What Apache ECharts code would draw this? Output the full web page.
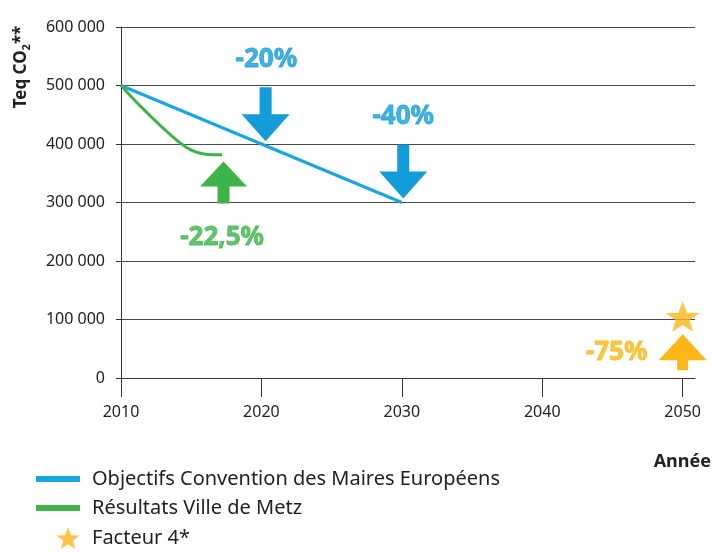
<!DOCTYPE html>
<html>
<head>
<meta charset="utf-8">
<script src="https://cdn.jsdelivr.net/npm/echarts@6/dist/echarts.min.js"></script>
<style>
html,body{margin:0;padding:0;background:#fff;}
#chart{width:712px;height:552px;}
</style>
</head>
<body>
<div id="chart"></div>
<script>
// ---- data ----
const xTicks = [2010, 2020, 2030, 2040, 2050];
const yTicks = [0, 100000, 200000, 300000, 400000, 500000, 600000];

const objectifYears = [2010, 2020, 2030];
const objectifValues = [500000, 400000, 300000];

const resultYears = [2010, 2011, 2012, 2013, 2014, 2015, 2016, 2017.2];
const resultValues = [500000, 474000, 450000, 427000, 406000, 389500, 382500, 381500];

const facteurYears = [2050];
const facteurValues = [105000];

const arrowDownPos = [[2020.3, 451000], [2030.1, 353000]];
const arrowUpGreenPos = [[2017.3, 334000]];
const arrowUpYellowPos = [[2050, 44000]];

const annotationTexts = ['-20%', '-40%', '-22,5%', '-75%'];
const annotationPos = [[2020.35, 545000], [2030.1, 446000], [2017.2, 240000], [2045.3, 44000]];
const annotationColors = ['#139cd9', '#139cd9', '#3cb44a', '#fbb617'];

const seriesNames = ['Objectifs Convention des Maires Européens', 'Résultats Ville de Metz', 'Facteur 4*'];

// ---- chart ----
const BLUE = '#17a6e2', BLUE_DARK = '#139cd9', GREEN = '#3cb44a', YELLOW = '#fbb617';
const FONT = '"Noto Sans", "Open Sans", sans-serif';
const STAR_PTS = 'L62,33.5 L97.55,34.55 L69.5,56.5 L79.39,90.45 L50,70.5 L20.61,90.45 L30.5,56.5 L2.45,34.55 L38,33.5 Z';
const STAR = 'path://M50,0 ' + STAR_PTS;
const STAR_LEGEND = 'path://M-80,45 M50,0 ' + STAR_PTS;
const LINE_ICON = 'path://M0,0 L44,0 L44,6 L0,6 Z';
const ARROW_DOWN = 'path://M18,0 L30,0 L30,27 L48,27 L24,54 L0,27 L18,27 Z';
const ARROW_UP_G = 'path://M23.5,0 L47,25 L29.5,25 L29.5,42 L17.5,42 L17.5,25 L0,25 Z';
const ARROW_UP_Y = 'path://M24,0 L48,26 L29.5,26 L29.5,36 L18.5,36 L18.5,26 L0,26 Z';

function fmt(v){ return String(v).replace(/\B(?=(\d{3})+(?!\d))/g, ' '); }

const chart = echarts.init(document.getElementById('chart'), null, {renderer:'canvas'});
chart.setOption({
  animation: false,
  backgroundColor: '#fff',
  textStyle: {fontFamily: FONT},
  grid: {left: 121, right: 17, top: 27, bottom: 174, containLabel: false},
  xAxis: {
    type: 'value', min: 2010, max: 2050.88,
    axisLine: {show: true, lineStyle: {color: '#333', width: 1}},
    axisTick: {show: true, length: 19, inside: false, customValues: xTicks, lineStyle: {color: '#333'}},
    axisLabel: {customValues: xTicks, margin: 26, fontSize: 16, color: '#222', fontFamily: FONT, formatter: v => String(v)},
    splitLine: {show: false}
  },
  yAxis: {
    type: 'value', min: 0, max: 600000, interval: 100000,
    axisLine: {show: true, lineStyle: {color: '#333', width: 1}},
    axisTick: {show: true, length: 5, lineStyle: {color: '#333'}},
    axisLabel: {margin: 16, fontSize: 16, color: '#222', fontFamily: FONT, formatter: v => fmt(v)},
    splitLine: {show: true, lineStyle: {color: '#4a4a4a', width: 1}}
  },
  legend: {
    orient: 'vertical', left: 36, top: 469, height: 100, padding: 0,
    itemWidth: 44, itemHeight: 22, itemGap: 9, symbolKeepAspect: true,
    textStyle: {fontSize: 20, color: '#222', fontFamily: FONT, padding: [0, 0, 0, 7]},
    data: [
      {name: seriesNames[0], icon: LINE_ICON},
      {name: seriesNames[1], icon: LINE_ICON},
      {name: seriesNames[2], icon: STAR_LEGEND}
    ],
    selectedMode: false
  },
  series: [
    {
      name: seriesNames[0], type: 'line', symbol: 'none',
      data: objectifYears.map((y, i) => [y, objectifValues[i]]),
      lineStyle: {color: BLUE, width: 3}, itemStyle: {color: BLUE}, z: 3
    },
    {
      name: seriesNames[1], type: 'line', symbol: 'none', smooth: 0.4,
      data: resultYears.map((y, i) => [y, resultValues[i]]),
      lineStyle: {color: GREEN, width: 3}, itemStyle: {color: GREEN}, z: 3
    },
    {
      name: seriesNames[2], type: 'scatter', symbol: STAR, symbolSize: [34, 32], symbolKeepAspect: true,
      data: facteurYears.map((y, i) => [y, facteurValues[i]]),
      itemStyle: {color: YELLOW}, z: 4
    },
    {
      name: 'arrowsDown', type: 'scatter', symbol: ARROW_DOWN, symbolSize: [48, 54],
      data: arrowDownPos, itemStyle: {color: BLUE_DARK, opacity: 1}, z: 2
    },
    {
      name: 'arrowUpGreen', type: 'scatter', symbol: ARROW_UP_G, symbolSize: [47, 42],
      data: arrowUpGreenPos, itemStyle: {color: GREEN, opacity: 1}, z: 2
    },
    {
      name: 'arrowUpYellow', type: 'scatter', symbol: ARROW_UP_Y, symbolSize: [48, 36],
      data: arrowUpYellowPos, itemStyle: {color: YELLOW, opacity: 1}, z: 2
    },
    {
      name: 'annotations', type: 'scatter', symbol: 'circle', symbolSize: 1,
      itemStyle: {color: 'rgba(0,0,0,0)'},
      data: annotationPos.map((p, i) => ({
        value: p,
        label: {show: true, position: 'inside', formatter: annotationTexts[i], color: annotationColors[i],
                textBorderColor: annotationColors[i], textBorderWidth: 0.8,
                fontSize: 26, fontWeight: 'bold', fontFamily: FONT}
      })),
      z: 5
    }
  ],
  graphic: [
    {
      type: 'text', x: 21, y: 67, rotation: Math.PI / 2,
      style: {
        text: '{a|Teq CO}{b|2}{a|**}',
        align: 'center', verticalAlign: 'middle',
        rich: {
          a: {fontSize: 17, fontWeight: 'bold', fontFamily: FONT, fill: '#222', lineHeight: 22},
          b: {fontSize: 11, fontWeight: 'bold', fontFamily: FONT, fill: '#222', lineHeight: 11, verticalAlign: 'bottom'}
        }
      }
    },
    {
      type: 'text', x: 711, y: 462,
      style: {text: 'Année', align: 'right', verticalAlign: 'middle', fontSize: 18, fontWeight: 'bold', fontFamily: FONT, fill: '#222'}
    }
  ]
});
</script>
</body>
</html>
